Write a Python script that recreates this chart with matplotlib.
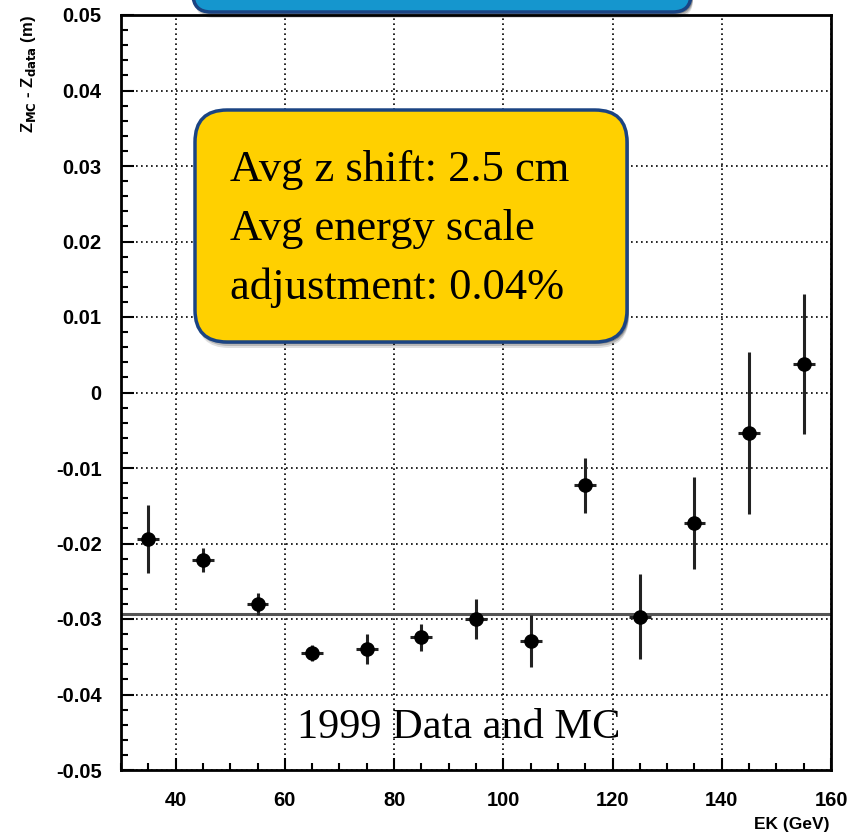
import numpy as np
import matplotlib
matplotlib.use("Agg")
from matplotlib import pyplot as plt
from matplotlib.patches import FancyBboxPatch
from matplotlib.transforms import IdentityTransform
from matplotlib.ticker import MultipleLocator

# measured points: beam energy (GeV), z difference (m), errors
energy = [35, 45, 55, 65, 75, 85, 95, 105, 115, 125, 135, 145, 155]
dz = [-0.0194, -0.0222, -0.0280, -0.0345, -0.0340, -0.0324, -0.0300,
      -0.0329, -0.0123, -0.0297, -0.0173, -0.0054, 0.0038]
dz_err = [0.0045, 0.0016, 0.0015, 0.0011, 0.0020, 0.0018, 0.0026,
          0.0034, 0.0036, 0.0056, 0.0061, 0.0107, 0.0093]
e_err = [2] * len(energy)
avg_shift = -0.0293

W, H = 860, 835
fig = plt.figure(figsize=(W / 100, H / 100), dpi=100)
ax = fig.add_axes([121 / W, 1 - 770 / H, (831 - 121) / W, (770 - 15) / H])

ax.errorbar(energy, dz, yerr=dz_err, xerr=e_err, fmt='o', color='black',
            ecolor='#222222', elinewidth=2.2, markersize=9.5, capsize=0, zorder=3)
ax.axhline(avg_shift, color='#555555', lw=2.2, zorder=2)

ax.set_xlim(30, 160)
ax.set_ylim(-0.05, 0.05)
ax.xaxis.set_major_locator(MultipleLocator(20))
ax.xaxis.set_minor_locator(MultipleLocator(5))
ax.yaxis.set_major_locator(MultipleLocator(0.01))
ax.yaxis.set_minor_locator(MultipleLocator(0.002))
ax.tick_params(which='both', direction='in', top=False, right=False, width=1.5)
ax.tick_params(which='major', length=9)
ax.tick_params(which='minor', length=5)
ax.tick_params(axis='x', pad=15)
ax.tick_params(axis='y', pad=14)
ax.set_xticks([40, 60, 80, 100, 120, 140, 160])
ax.set_yticks(np.round(np.arange(-0.05, 0.051, 0.01), 2))
ax.set_yticklabels(['-0.05', '-0.04', '-0.03', '-0.02', '-0.01', '0',
                    '0.01', '0.02', '0.03', '0.04', '0.05'])
for lab in ax.get_xticklabels() + ax.get_yticklabels():
    lab.set_fontfamily('Liberation Sans')
    lab.set_fontweight('bold')
    lab.set_fontsize(14.5)
ax.grid(True, which='major', color='black', linestyle=(0, (1, 2)), lw=1.2)
for s in ax.spines.values():
    s.set_linewidth(2)

fig.text(830 / W, 1 - 824 / H, 'EK (GeV)', ha='right', va='center',
         fontsize=12.5, fontweight='bold', family='Liberation Sans')
fig.text(28 / W, 1 - 74 / H, r'Z$_{\mathbf{MC}}$ - Z$_{\mathbf{data}}$ (m)',
         rotation=90, ha='center', va='center', fontsize=12,
         fontweight='bold', family='Liberation Sans')


def box(x0, y0, x1, y1, face, r):
    t = IdentityTransform()
    for k, a in [(6, 0.12), (4, 0.18), (2, 0.25)]:
        sh = FancyBboxPatch((x0 + 2, H - y1 - k), x1 - x0, y1 - y0,
                            boxstyle="round,pad=0,rounding_size=%d" % r,
                            fc='black', ec='none', alpha=a, transform=t,
                            clip_on=False, zorder=10)
        fig.patches.append(sh)
    p = FancyBboxPatch((x0, H - y1), x1 - x0, y1 - y0,
                       boxstyle="round,pad=0,rounding_size=%d" % r,
                       fc=face, ec='#1b4483', lw=2.5, transform=t,
                       clip_on=False, zorder=11)
    fig.patches.append(p)


# blue banner cut off at the top
box(193, -60, 691, 12, '#1596ce', 18)
# yellow note
box(195, 110, 627, 342, '#ffd000', 32)

note = "Avg z shift: 2.5 cm\nAvg energy scale\nadjustment: 0.04%"
fig.text(230 / W, 1 - 229 / H, note, ha='left', va='center', fontsize=32,
         family='Liberation Serif', linespacing=1.6, zorder=12)
fig.text(297 / W, 1 - 738 / H, '1999 Data and MC', ha='left', va='baseline',
         fontsize=30.5, family='Liberation Serif', zorder=12)

fig.savefig('out.png', dpi=100)
